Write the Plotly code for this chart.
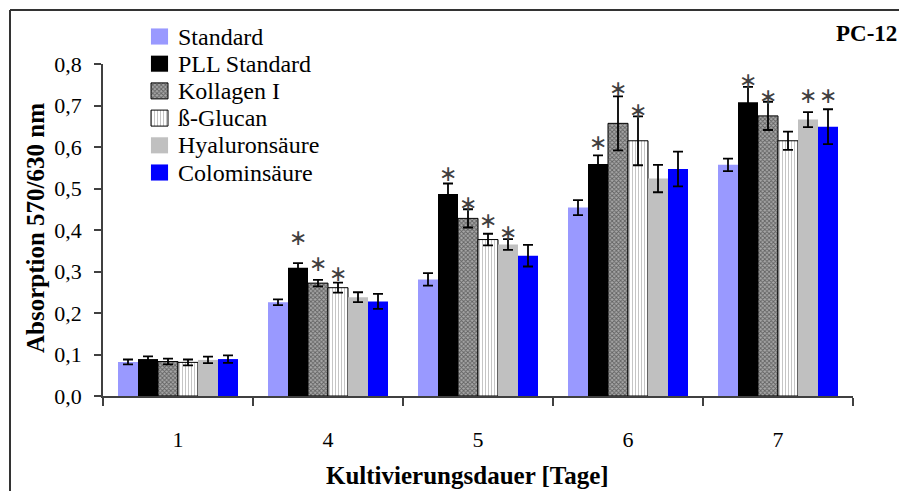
import plotly.graph_objects as go

# ---------------- data ----------------
days = ["1", "4", "5", "6", "7"]
series_names = ["Standard", "PLL Standard", "Kollagen I", "ß-Glucan", "Hyaluronsäure", "Colominsäure"]

standard = [0.082, 0.226, 0.281, 0.454, 0.557]
standard_err = [0.006, 0.007, 0.015, 0.018, 0.015]
pll = [0.089, 0.309, 0.487, 0.559, 0.708]
pll_err = [0.0065, 0.011, 0.025, 0.021, 0.037]
kollagen = [0.083, 0.272, 0.428, 0.657, 0.675]
kollagen_err = [0.007, 0.008, 0.022, 0.065, 0.034]
glucan = [0.081, 0.261, 0.377, 0.615, 0.615]
glucan_err = [0.007, 0.012, 0.014, 0.059, 0.022]
hyaluron = [0.087, 0.238, 0.365, 0.524, 0.666]
hyaluron_err = [0.008, 0.012, 0.013, 0.033, 0.018]
colomin = [0.089, 0.228, 0.338, 0.547, 0.649]
colomin_err = [0.009, 0.018, 0.026, 0.042, 0.042]

# significance asterisks (height in absorption units, None = no asterisk)
star_standard = [None, None, None, None, None]
star_pll = [None, 0.382, 0.537, 0.610, 0.760]
star_kollagen = [None, 0.320, 0.464, 0.740, 0.721]
star_glucan = [None, 0.295, 0.423, 0.688, None]
star_hyaluron = [None, None, 0.395, None, 0.723]
star_colomin = [None, None, None, None, 0.723]

y_ticks = [0.0, 0.1, 0.2, 0.3, 0.4, 0.5, 0.6, 0.7, 0.8]

# ---------------- styling ----------------
W, H = 899, 491
FONT = "Liberation Serif"
PLOT_L, PLOT_R, PLOT_T, PLOT_B = 103, 853, 64, 396

values = [standard, pll, kollagen, glucan, hyaluron, colomin]
errors = [standard_err, pll_err, kollagen_err, glucan_err, hyaluron_err, colomin_err]
stars = [star_standard, star_pll, star_kollagen, star_glucan, star_hyaluron, star_colomin]

styles = [
    dict(color="#9999FF", line=dict(width=0)),
    dict(color="#000000", line=dict(width=0)),
    dict(color="#9A9A9A", line=dict(width=1, color="#000000"),
         pattern=dict(shape="x", fgcolor="#1A1A1A", bgcolor="#A8A8A8", size=3, solidity=0.5)),
    dict(color="#FFFFFF", line=dict(width=1, color="#000000"),
         pattern=dict(shape="|", fgcolor="#8C8C8C", bgcolor="#FFFFFF", size=3, solidity=0.34)),
    dict(color="#C0C0C0", line=dict(width=0)),
    dict(color="#0000FF", line=dict(width=0)),
]

fig = go.Figure()
for name, vals, errs, st in zip(series_names, values, errors, styles):
    fig.add_trace(go.Bar(
        x=days, y=vals, name=name, marker=st, showlegend=False,
        error_y=dict(type="data", array=errs, visible=True, color="#000000",
                     thickness=1.8, width=5),
        xaxis="x", yaxis="y",
    ))

BARGAP = 0.2
n_series = len(series_names)
cat_px = (PLOT_R - PLOT_L) / len(days)
bar_px = cat_px * (1 - BARGAP) / n_series

annotations = []
for i, st_list in enumerate(stars):
    for j, sy in enumerate(st_list):
        if sy is None:
            continue
        annotations.append(dict(
            x=j, y=sy, xref="x", yref="y", text="∗", showarrow=False,
            xshift=(i - (n_series - 1) / 2) * bar_px, xanchor="center", yanchor="middle",
            font=dict(family="DejaVu Sans", size=22, color="#404040"),
        ))

# ---------------- manual legend (pixel overlay axes) ----------------
LEG_X0, LEG_SW, LEG_Y0, LEG_DY, LEG_SH = 151, 17, 36.5, 27.2, 16
for k, (name, st) in enumerate(zip(series_names, styles)):
    yc = LEG_Y0 + k * LEG_DY
    x0, x1 = LEG_X0, LEG_X0 + LEG_SW
    y0, y1 = yc - LEG_SH / 2, yc + LEG_SH / 2
    pat = st.get("pattern")
    lw = st["line"].get("width", 0)
    tr = dict(
        x=[x0, x1, x1, x0, x0], y=[y0, y0, y1, y1, y0], mode="lines", fill="toself",
        fillcolor=st["color"], line=dict(width=lw if lw else 0.1,
                                          color=st["line"].get("color", st["color"])),
        showlegend=False, hoverinfo="skip", xaxis="x2", yaxis="y2",
    )
    if pat:
        tr["fillpattern"] = pat
    fig.add_trace(go.Scatter(**tr))
    annotations.append(dict(
        x=(LEG_X0 + LEG_SW + 8) / W, y=1 - yc / H, xref="paper", yref="paper",
        text=name, showarrow=False, xanchor="left", yanchor="middle",
        font=dict(family=FONT, size=24, color="#000000"),
    ))

# titles
annotations.append(dict(
    x=468 / W, y=1 - 475 / H, xref="paper", yref="paper", text="<b>Kultivierungsdauer [Tage]</b>",
    showarrow=False, xanchor="center", yanchor="middle",
    font=dict(family=FONT, size=25, color="#000000"),
))
annotations.append(dict(
    x=35 / W, y=1 - 228 / H, xref="paper", yref="paper", text="<b>Absorption 570/630 nm</b>",
    showarrow=False, xanchor="center", yanchor="middle", textangle=-90,
    font=dict(family=FONT, size=25, color="#000000"),
))
annotations.append(dict(
    x=899 / W, y=1 - 34 / H, xref="paper", yref="paper", text="<b>PC-12</b>",
    showarrow=False, xanchor="right", yanchor="middle",
    font=dict(family=FONT, size=23, color="#000000"),
))

shapes = [
    dict(type="line", xref="paper", yref="paper", x0=10 / W, x1=10 / W, y0=1 - 10 / H, y1=-0.05,
         line=dict(color="#333333", width=2)),
    dict(type="line", xref="paper", yref="paper", x0=10 / W, x1=1.05, y0=1 - 10 / H, y1=1 - 10 / H,
         line=dict(color="#333333", width=2)),
]

fig.update_layout(
    width=W, height=H,
    margin=dict(l=0, r=0, t=0, b=0, pad=0, autoexpand=False),
    paper_bgcolor="#FFFFFF", plot_bgcolor="rgba(0,0,0,0)",
    barmode="group", bargap=BARGAP, bargroupgap=0,
    separators=", ",
    font=dict(family=FONT, size=22, color="#000000"),
    showlegend=False,
    xaxis=dict(
        domain=[PLOT_L / W, PLOT_R / W], anchor="y", type="category",
        range=[-0.5, len(days) - 0.5], fixedrange=True, automargin=False,
        showline=True, linecolor="#404040", linewidth=1.5,
        ticks="outside", tickson="boundaries", ticklen=8, tickcolor="#404040", tickwidth=1.5,
        ticklabelstandoff=23, showgrid=False, zeroline=False,
        tickfont=dict(family=FONT, size=22, color="#000000"),
    ),
    yaxis=dict(
        domain=[1 - PLOT_B / H, 1 - PLOT_T / H], anchor="x", automargin=False,
        range=[0, 0.8], tickvals=y_ticks, tickformat=".1f",
        showline=True, linecolor="#404040", linewidth=1.5,
        ticks="outside", ticklen=7, tickcolor="#404040", tickwidth=1.5,
        ticklabelstandoff=8, showgrid=False, zeroline=False,
        tickfont=dict(family=FONT, size=22, color="#000000"),
    ),
    xaxis2=dict(domain=[0, 1], anchor="y2", range=[0, W], visible=False, fixedrange=True,
                automargin=False),
    yaxis2=dict(domain=[0, 1], anchor="x2", range=[H, 0], visible=False, fixedrange=True,
                automargin=False),
    annotations=annotations,
    shapes=shapes,
)

fig.write_html("out.html")
